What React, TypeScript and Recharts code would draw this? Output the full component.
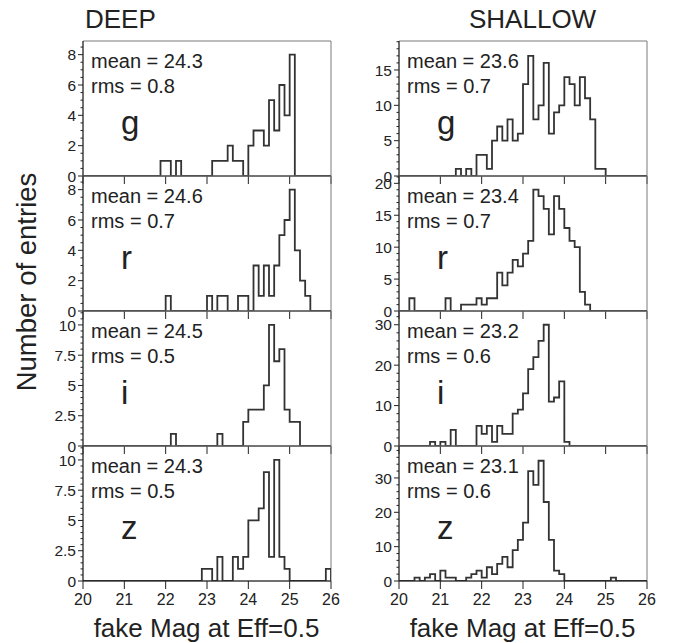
import { LineChart, Line, XAxis, YAxis, ReferenceArea } from 'recharts';

// histogram binning: 48 bins of 0.125 mag from 20 to 26
const X_MIN = 20;
const X_MAX = 26;
const BIN = 0.125;
const X_TICKS = [20, 21, 22, 23, 24, 25, 26];

// counts per bin
const deepG = [
  0, 0, 0, 0, 0, 0, 0, 0, 0, 0,
  0, 0, 0, 0, 0, 1, 1, 0, 1, 0,
  0, 0, 0, 0, 0, 1, 1, 1, 2, 1,
  1, 0, 2, 3, 3, 2, 5, 3, 6, 4,
  8, 0, 0, 0, 0, 0, 0, 0,
];
const deepR = [
  0, 0, 0, 0, 0, 0, 0, 0, 0, 0,
  0, 0, 0, 0, 0, 0, 1, 0, 0, 0,
  0, 0, 0, 0, 1, 0, 1, 1, 0, 0,
  1, 1, 0, 3, 1, 3, 1, 3, 5, 6,
  8, 4, 2, 1, 0, 0, 0, 0,
];
const deepI = [
  0, 0, 0, 0, 0, 0, 0, 0, 0, 0,
  0, 0, 0, 0, 0, 0, 0, 1, 0, 0,
  0, 0, 0, 0, 0, 0, 1, 0, 0, 0,
  0, 2, 3, 3, 3, 5, 10, 7, 8, 3,
  2, 2, 0, 0, 0, 0, 0, 0,
];
const deepZ = [
  0, 0, 0, 0, 0, 0, 0, 0, 0, 0,
  0, 0, 0, 0, 0, 0, 0, 0, 0, 0,
  0, 0, 0, 1, 1, 0, 2, 0, 0, 2,
  1, 2, 5, 5, 6, 9, 2, 10, 2, 1,
  0, 0, 0, 0, 0, 0, 0, 1,
];
const shallowG = [
  0, 0, 0, 0, 0, 0, 0, 0, 0, 0,
  0, 1, 0, 1, 0, 3, 3, 1, 5, 7,
  5, 8, 5, 6, 13, 17, 8, 10, 16, 6,
  9, 10, 14, 13, 10, 14, 11, 8, 1, 1,
  0, 0, 0, 0, 0, 0, 0, 0,
];
const shallowR = [
  0, 0, 2, 0, 0, 0, 0, 0, 0, 2,
  0, 0, 1, 1, 1, 2, 1, 2, 2, 6,
  4, 6, 8, 7, 9, 11, 19, 18, 16, 12,
  18, 16, 13, 11, 10, 3, 1, 0, 0, 0,
  0, 0, 0, 0, 0, 0, 0, 0,
];
const shallowI = [
  0, 0, 0, 0, 0, 0, 1, 0, 1, 0,
  4, 0, 0, 0, 0, 5, 3, 5, 1, 5,
  3, 3, 8, 9, 13, 19, 22, 26, 30, 11,
  12, 16, 1, 0, 0, 0, 0, 0, 0, 0,
  0, 0, 0, 0, 0, 0, 0, 0,
];
const shallowZ = [
  0, 0, 0, 1, 0, 1, 2, 0, 3, 1,
  1, 0, 0, 1, 2, 3, 1, 4, 2, 5,
  7, 4, 9, 12, 17, 32, 28, 35, 23, 12,
  3, 2, 0, 0, 0, 0, 0, 0, 0, 0,
  0, 1, 0, 0, 0, 0, 0, 0,
];

const bands = ['g', 'r', 'i', 'z'];
const deepMeans = ['24.3', '24.6', '24.5', '24.3'];
const deepRms = ['0.8', '0.7', '0.5', '0.5'];
const shallowMeans = ['23.6', '23.4', '23.2', '23.1'];
const shallowRms = ['0.7', '0.7', '0.6', '0.6'];
const deepCounts = [deepG, deepR, deepI, deepZ];
const shallowCounts = [shallowG, shallowR, shallowI, shallowZ];
// y axis: [max, major step, minor step]
const deepY = [[8.9, 2, 0.5], [8.9, 2, 0.5], [11.15, 2.5, 0.5], [11.15, 2.5, 0.5]];
const shallowY = [[19.1, 5, 1], [21.15, 5, 1], [33.4, 10, 2], [39.3, 10, 2]];

const FONT = '"Liberation Sans", Arial, Helvetica, sans-serif';
const INK = '#222';
const PLOT_W = 248;
const PLOT_H = 135;
const COL_X = [82.5, 398.5];
const ROW_Y = [41, 176, 311, 446];
const M = { top: 10, right: 10, bottom: 40, left: 50 };

function toSteps(counts: number[]) {
  const pts = counts.map((c, i) => ({ x: X_MIN + i * BIN, y: c }));
  pts.push({ x: X_MAX, y: 0 });
  return pts;
}

function yTicks(max: number, minor: number) {
  const out: number[] = [];
  for (let i = 0; i * minor <= max + 1e-9; i++) out.push(Math.round(i * minor * 100) / 100);
  return out;
}

function YTick(props: any) {
  const { x, y, payload, major } = props;
  const v = payload.value as number;
  const isMajor = Math.abs(v / major - Math.round(v / major)) < 1e-6;
  const len = isMajor ? 5 : 2.5;
  return (
    <g>
      <line x1={x - len} x2={x} y1={y} y2={y} stroke={INK} strokeWidth={1} />
      {isMajor && (
        <text x={x - 7} y={y} dy="0.36em" textAnchor="end" fontSize={15.5} fontFamily={FONT} fill={INK}>
          {String(v)}
        </text>
      )}
    </g>
  );
}

const blankTick = () => <g />;

type PanelProps = {
  left: number;
  top: number;
  counts: number[];
  yCfg: number[];
  showX: boolean;
};

function Panel({ left, top, counts, yCfg, showX }: PanelProps) {
  const [yMax, major, minor] = yCfg;
  return (
    <div style={{ position: 'absolute', left: left - M.left, top: top - M.top }}>
      <LineChart
        width={M.left + PLOT_W + M.right}
        height={M.top + PLOT_H + M.bottom}
        data={toSteps(counts)}
        margin={{ top: M.top, right: M.right, bottom: 0, left: 0 }}
      >
        <ReferenceArea x1={X_MIN} x2={X_MAX} y1={0} y2={yMax} fill="none" stroke="#7a7a7a" strokeWidth={1} ifOverflow="visible" />
        <XAxis
          dataKey="x"
          type="number"
          domain={[X_MIN, X_MAX]}
          ticks={X_TICKS}
          interval={0}
          allowDataOverflow
          height={M.bottom}
          tickSize={8}
          tickMargin={5}
          axisLine={{ stroke: INK }}
          tickLine={{ stroke: INK }}
          tick={showX ? { fontSize: 16, fontFamily: FONT, fill: INK } : blankTick}
        />
        <YAxis
          type="number"
          domain={[0, yMax]}
          ticks={yTicks(yMax, minor)}
          interval={0}
          allowDataOverflow
          width={M.left}
          tickSize={0}
          tickMargin={0}
          tickLine={false}
          axisLine={{ stroke: INK }}
          tick={(p: any) => <YTick {...p} major={major} />}
        />
        <Line type="stepAfter" dataKey="y" stroke="#333" strokeWidth={1.8} dot={false} isAnimationActive={false} />
      </LineChart>
    </div>
  );
}

export default function App() {
  const columns = [
    { counts: deepCounts, yCfg: deepY, means: deepMeans, rms: deepRms },
    { counts: shallowCounts, yCfg: shallowY, means: shallowMeans, rms: shallowRms },
  ];
  return (
    <div style={{ position: 'absolute', left: 0, top: 0, width: 673, height: 643, background: '#fff' }}>
      {columns.map((col, c) =>
        ROW_Y.map((ry, r) => (
          <Panel key={`${c}-${r}`} left={COL_X[c]} top={ry} counts={col.counts[r]} yCfg={col.yCfg[r]} showX={r === 3} />
        ))
      )}
      <svg width={673} height={643} style={{ position: 'absolute', left: 0, top: 0, pointerEvents: 'none' }} fontFamily={FONT} fill={INK}>
        <text x={85} y={28} fontSize={26}>DEEP</text>
        <text x={469} y={28} fontSize={26}>SHALLOW</text>
        {columns.map((col, c) =>
          ROW_Y.map((ry, r) => (
            <g key={`t-${c}-${r}`}>
              <text x={COL_X[c] + 8.5} y={ry + 27} fontSize={20}>mean = {col.means[r]}</text>
              <text x={COL_X[c] + 8.5} y={ry + 52} fontSize={20}>rms = {col.rms[r]}</text>
              <text x={COL_X[c] + 38.5} y={ry + 93} fontSize={33}>{bands[r]}</text>
            </g>
          ))
        )}
        {COL_X.map((cx, c) => (
          <text key={`xl-${c}`} x={cx + PLOT_W / 2} y={637} fontSize={26} textAnchor="middle">fake Mag at Eff=0.5</text>
        ))}
        <text transform="translate(36 282) rotate(-90)" fontSize={27.5} textAnchor="middle">Number of entries</text>
      </svg>
    </div>
  );
}
